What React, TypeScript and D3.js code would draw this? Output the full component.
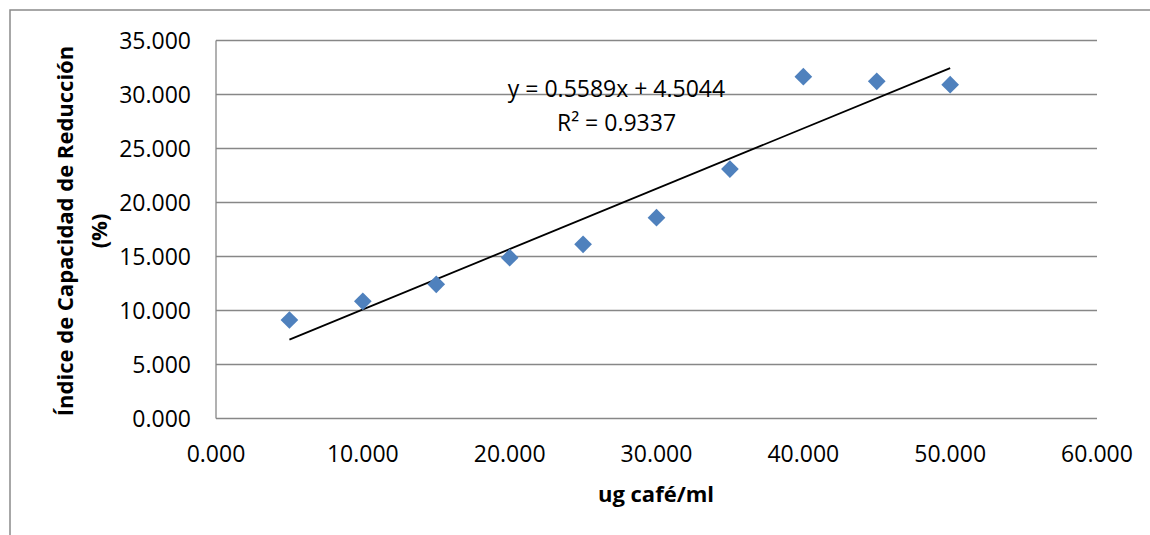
import React from "react";
import * as d3 from "d3";

const xValues = [5, 10, 15, 20, 25, 30, 35, 40, 45, 50];
const yValues = [9.12, 10.85, 12.42, 14.89, 16.13, 18.59, 23.1, 31.65, 31.22, 30.91];
const xTicks = [0, 10, 20, 30, 40, 50, 60];
const yTicks = [0, 5, 10, 15, 20, 25, 30, 35];
const slope = 0.5589;
const intercept = 4.5044;
const equationLines = ["y = 0.5589x + 4.5044", "R² = 0.9337"];
const xTitle = "ug café/ml";
const yTitleLines = ["Índice de Capacidad de Reducción", "(%)"];

const W = 1150;
const H = 535;
const plot = { left: 216, right: 1097, top: 40.5, bottom: 418.5 };
const FONT = "'Open Sans', 'Noto Sans', sans-serif";
const GRID = "#878787";
const BLUE = "#4F81BD";

export default function App() {
  const x = d3.scaleLinear().domain([0, 60]).range([plot.left, plot.right]);
  const y = d3.scaleLinear().domain([0, 35]).range([plot.bottom, plot.top]);
  const fmt = d3.format(".3f");
  const x0 = d3.min(xValues)!;
  const x1 = d3.max(xValues)!;
  const line = d3.line<number>().x((d) => x(d)).y((d) => y(slope * d + intercept));
  const diamond = d3.symbol().type(d3.symbolDiamond2).size(200)();

  return (
    <svg
      width={W}
      height={H}
      viewBox={`0 0 ${W} ${H}`}
      style={{ position: "absolute", left: 0, top: 0, background: "#fff" }}
      fontFamily={FONT}
    >
      <rect x={0} y={0} width={W} height={H} fill="#fff" />
      <rect x={10} y={10} width={W + 20} height={H + 20} fill="none" stroke="#8a8a8a" strokeWidth={1.5} />
      {yTicks.map((t) => (
        <line key={"g" + t} x1={plot.left} x2={plot.right} y1={y(t)} y2={y(t)} stroke={GRID} strokeWidth={1.3} />
      ))}
      <line x1={plot.left} x2={plot.left} y1={plot.top} y2={plot.bottom} stroke={GRID} strokeWidth={1.3} />
      {yTicks.map((t) => (
        <text key={"yl" + t} x={191} y={y(t)} dy="0.35em" textAnchor="end" fontSize={23} fill="#000">
          {fmt(t)}
        </text>
      ))}
      {xTicks.map((t) => (
        <text key={"xl" + t} x={x(t)} y={462} textAnchor="middle" fontSize={23} fill="#000">
          {fmt(t)}
        </text>
      ))}
      <path d={line([x0, x1]) || ""} fill="none" stroke="#000" strokeWidth={1.8} />
      {xValues.map((v, i) => (
        <path key={"p" + i} d={diamond || ""} transform={`translate(${x(v)},${y(yValues[i])})`} fill={BLUE} />
      ))}
      {equationLines.map((s, i) => (
        <text key={"eq" + i} x={616.5} y={97 + i * 34} textAnchor="middle" fontSize={23} fill="#000">
          {s}
        </text>
      ))}
      <text x={656} y={502} textAnchor="middle" fontSize={22} fontWeight="bold" fill="#000">
        {xTitle}
      </text>
      {yTitleLines.map((s, i) => (
        <text
          key={"yt" + i}
          transform={`translate(${73 + i * 34},231) rotate(-90)`}
          textAnchor="middle"
          fontSize={22}
          fontWeight="bold"
          fill="#000"
        >
          {s}
        </text>
      ))}
    </svg>
  );
}
